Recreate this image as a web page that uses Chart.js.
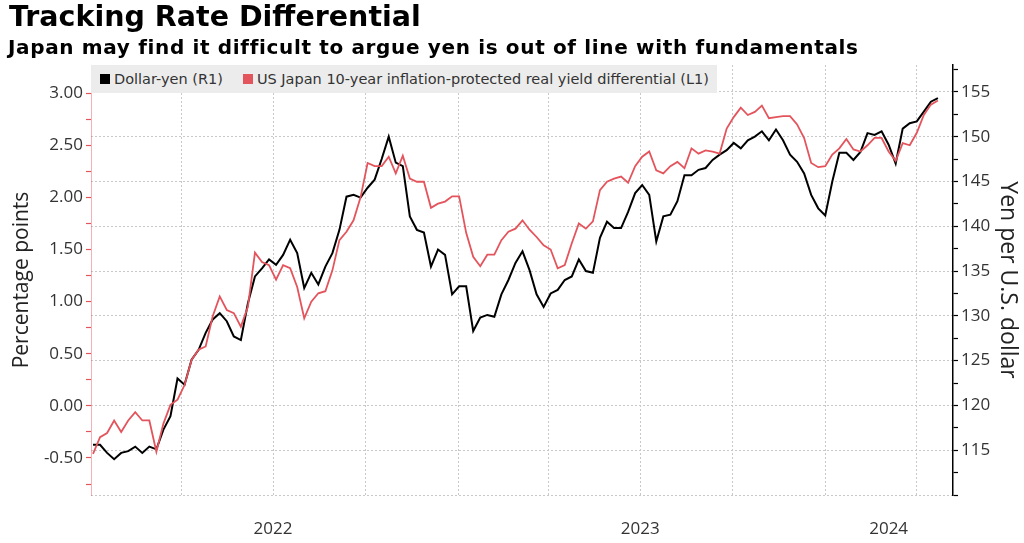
<!DOCTYPE html>
<html>
<head>
<meta charset="utf-8">
<title>Tracking Rate Differential</title>
<script src="https://cdn.jsdelivr.net/npm/chart.js@4.4.1/dist/chart.umd.min.js"></script>
<style>
  html, body { margin: 0; padding: 0; background: #fff; }
  #wrap { position: relative; width: 1024px; height: 543px; overflow: hidden; }
  #chart { position: absolute; left: 0; top: 0; }
  h1 { position: absolute; left: 9px; top: 1px; margin: 0; font: bold 28.5px/32px "DejaVu Sans"; color: #000; white-space: nowrap; }
  h2 { position: absolute; left: 8px; top: 36px; margin: 0; font: bold 20px/22px "DejaVu Sans"; letter-spacing: 0.65px; color: #000; white-space: nowrap; }
  #legend { position: absolute; left: 91px; top: 65px; height: 28px; padding: 0 8px 0 9px; background: #ececec;
            font: 14.5px/28px "DejaVu Sans"; color: #333; display: flex; align-items: center; white-space: nowrap; }
  #legend span.item { display: inline-flex; align-items: center; margin-right: 20px; }
  #legend span.item:last-child { margin-right: 0; }
  #legend i { display: inline-block; width: 10px; height: 10px; margin-right: 4px; }
</style>
</head>
<body>
<div id="wrap">
  <canvas id="chart" width="1024" height="543"></canvas>
  <h1>Tracking Rate Differential</h1>
  <h2>Japan may find it difficult to argue yen is out of line with fundamentals</h2>
  <div id="legend"></div>
</div>
<script>
// weekly closes, starting Monday 3 Jan 2022
const firstWeek = '2022-01-03';

// Dollar-yen (right axis, yen per dollar)
const dollarYen = [
  115.6, 115.6, 114.7, 114.0, 114.7, 114.9, 115.4, 114.7, 115.4, 115.1,
  117.3, 118.8, 123.0, 122.3, 125.1, 126.2, 128.1, 129.6, 130.3, 129.4,
  127.7, 127.3, 131.4, 134.4, 135.3, 136.3, 135.7, 136.8, 138.5, 137.0,
  133.1, 134.8, 133.5, 135.5, 137.0, 139.6, 143.3, 143.5, 143.2, 144.3,
  145.2, 147.5, 150.0, 147.1, 146.7, 141.1, 139.6, 139.3, 135.5, 137.4,
  136.8, 132.4, 133.3, 133.3, 128.3, 129.8, 130.1, 129.9, 132.4, 134.0,
  135.9, 137.2, 135.1, 132.4, 131.0, 132.5, 132.9, 134.0, 134.4, 136.3,
  135.0, 134.8, 138.7, 140.5, 139.8, 139.8, 141.6, 143.7, 144.6, 143.5,
  138.3, 141.1, 141.3, 142.8, 145.7, 145.7, 146.3, 146.5, 147.4, 148.0,
  148.5, 149.3, 148.7, 149.6, 150.0, 150.6, 149.6, 150.8, 149.6, 148.0,
  147.2, 145.9, 143.5, 142.0, 141.2, 145.0, 148.2, 148.2, 147.4, 148.3,
  150.4, 150.2, 150.6, 149.1, 147.0, 150.9, 151.5, 151.7, 152.8, 153.9,
  154.3
];

// US minus Japan 10-year real yield (left axis, percentage points)
const realYieldDiff = [
  -0.46, -0.30, -0.26, -0.14, -0.25, -0.14, -0.06, -0.14, -0.14, -0.44,
  -0.17, 0.01, 0.06, 0.20, 0.44, 0.54, 0.57, 0.86, 1.05, 0.92,
  0.89, 0.76, 0.95, 1.47, 1.38, 1.35, 1.21, 1.35, 1.32, 1.14,
  0.84, 1.00, 1.08, 1.10, 1.30, 1.59, 1.67, 1.78, 2.00, 2.33,
  2.30, 2.30, 2.39, 2.23, 2.40, 2.18, 2.15, 2.15, 1.90, 1.94,
  1.96, 2.01, 2.01, 1.66, 1.43, 1.34, 1.45, 1.45, 1.59, 1.67,
  1.70, 1.78, 1.69, 1.62, 1.54, 1.50, 1.32, 1.35, 1.56, 1.75,
  1.70, 1.77, 2.07, 2.15, 2.18, 2.20, 2.14, 2.30, 2.39, 2.44,
  2.26, 2.23, 2.30, 2.34, 2.28, 2.47, 2.42, 2.45, 2.44, 2.42,
  2.66, 2.77, 2.86, 2.79, 2.82, 2.88, 2.76, 2.77, 2.78, 2.78,
  2.70, 2.57, 2.33, 2.29, 2.30, 2.41, 2.47, 2.56, 2.46, 2.44,
  2.50, 2.57, 2.57, 2.44, 2.35, 2.52, 2.50, 2.62, 2.79, 2.89,
  2.93
];

const leftTickLabels = ['-0.50', '0.00', '0.50', '1.00', '1.50', '2.00', '2.50', '3.00'];
const rightTickLabels = ['115', '120', '125', '130', '135', '140', '145', '150', '155'];
const quarterLines = ['2022-04-01', '2022-07-01', '2022-10-01', '2023-01-01', '2023-04-01',
                      '2023-07-01', '2023-10-01', '2024-01-01', '2024-04-01'];
const yearLabels = [['2022', '2022-07-01'], ['2023', '2023-07-01'], ['2024', '2024-03-04']];
const axisStart = '2022-01-01';
const axisEnd = '2024-05-07';

const RED = '#e4545c';
const DAY = 86400000;
const dayOf = s => (Date.parse(s) - Date.parse(axisStart)) / DAY;
const week0 = dayOf(firstWeek);
const pts = arr => arr.map((v, i) => ({ x: week0 + 7 * i, y: v }));

const gridDays = quarterLines.map(dayOf);
const labelAt = {};
yearLabels.forEach(([txt, d]) => { labelAt[dayOf(d)] = txt; });
const xTicks = [...new Set([...gridDays, ...Object.keys(labelAt).map(Number)])].sort((a, b) => a - b);

// minor ticks every quarter step between the labelled ones
const leftTicks = [];
for (let v = -0.75; v <= 3.0001; v += 0.25) leftTicks.push(v);
const rightTicks = [];
for (let v = 110; v <= 157.5; v += 2.5) rightTicks.push(v);

const tickFont = { family: 'Open Sans', size: 17 };
const dots = '#c9c9c9';

const chart = new Chart(document.getElementById('chart'), {
  type: 'line',
  data: {
    datasets: [
      {
        label: 'Dollar-yen (R1)',
        data: pts(dollarYen),
        yAxisID: 'yR',
        borderColor: '#000',
        backgroundColor: '#000',
        borderWidth: 2,
        pointRadius: 0,
        order: 2
      },
      {
        label: 'US Japan 10-year inflation-protected real yield differential (L1)',
        data: pts(realYieldDiff),
        yAxisID: 'yL',
        borderColor: RED,
        backgroundColor: RED,
        borderWidth: 1.8,
        pointRadius: 0,
        order: 1
      }
    ]
  },
  options: {
    responsive: false,
    animation: false,
    layout: { padding: { top: 65, left: 0, right: 0, bottom: 0 } },
    plugins: { legend: { display: false }, tooltip: { enabled: false } },
    scales: {
      x: {
        type: 'linear',
        min: 0,
        max: dayOf(axisEnd),
        afterBuildTicks: s => { s.ticks = xTicks.map(v => ({ value: v })); },
        afterFit: s => { s.height = 48; },
        ticks: {
          autoSkip: false,
          maxRotation: 0,
          padding: 24,
          color: '#333',
          font: tickFont,
          callback: v => labelAt[v] || ''
        },
        grid: {
          drawTicks: false,
          color: c => (c.tick && gridDays.includes(c.tick.value) ? dots : 'transparent')
        },
        border: { display: false, dash: [2, 2] }
      },
      yL: {
        position: 'left',
        min: -0.855,
        max: 3.27,
        afterBuildTicks: s => { s.ticks = leftTicks.map(v => ({ value: v })); },
        afterFit: s => { s.width = 91; },
        ticks: {
          autoSkip: false,
          padding: 3,
          color: '#333',
          font: tickFont,
          callback: v => leftTickLabels.find(l => Number(l) === v) || ''
        },
        grid: { drawOnChartArea: false, tickLength: 5, tickColor: RED, tickWidth: 1.2 },
        border: { color: 'rgba(228,84,92,0.45)', width: 1 },
        title: {
          display: true,
          text: 'Percentage points',
          color: '#222',
          font: { family: 'Open Sans', size: 21 },
          padding: { top: 9, bottom: 0 }
        }
      },
      yR: {
        position: 'right',
        min: 110,
        max: 158,
        afterBuildTicks: s => { s.ticks = rightTicks.map(v => ({ value: v })); },
        afterFit: s => { s.width = 71; },
        ticks: {
          autoSkip: false,
          padding: 3,
          color: '#333',
          font: tickFont,
          callback: v => rightTickLabels.includes(String(v)) ? String(v) : ''
        },
        grid: {
          tickLength: 5,
          tickColor: '#000',
          tickWidth: 1.2,
          color: c => (c.tick && c.tick.value % 5 === 0 ? dots : 'transparent')
        },
        border: { color: '#000', width: 1.5, dash: [2, 2] },
        title: {
          display: true,
          text: 'Yen per U.S. dollar',
          color: '#222',
          font: { family: 'Open Sans', size: 23 },
          padding: { top: 3, bottom: 0 }
        }
      }
    }
  }
});

// legend in a grey strip over the top of the plot
document.getElementById('legend').innerHTML = chart.data.datasets
  .map(d => `<span class="item"><i style="background:${d.borderColor}"></i>${d.label}</span>`)
  .join('');
</script>
</body>
</html>
